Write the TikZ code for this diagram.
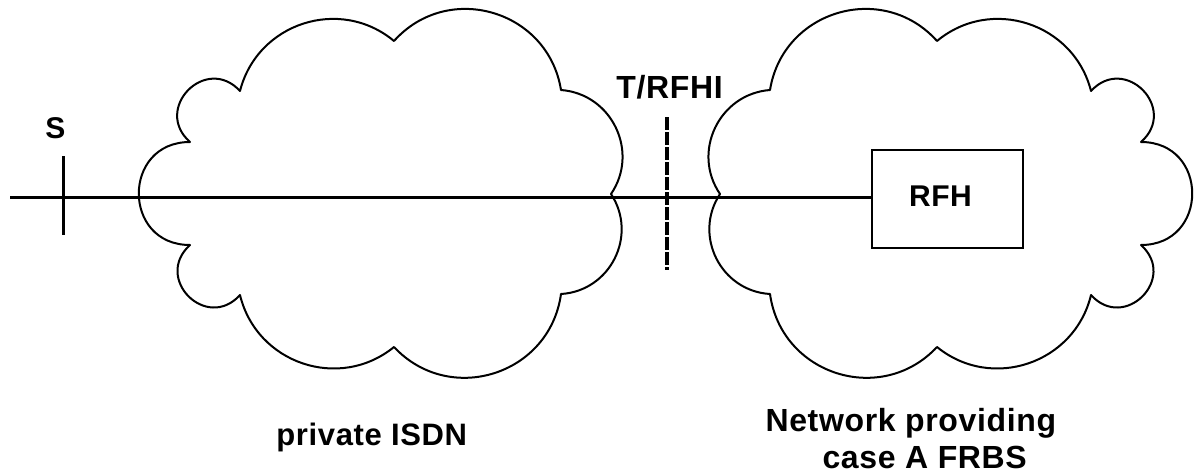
\documentclass[tikz,border=0pt]{standalone}
\usepackage{fontspec}
\newfontfamily\lblfont{Liberation Sans}[LetterSpace=2]
% Outline of a cloud: #1 = x offset, #2 = x direction, #3 = bend side
\newcommand\cloudrim[3]{%
  ({#1+#2*190},230)
  to[bend #3=90,looseness=1.70] ({#1+#2*190},333)
  to[bend #3=93,looseness=1.80] ({#1+#2*240},384)
  to[bend #3=57.75,looseness=1.11] ({#1+#2*394},434)
  to[bend #3=64.5,looseness=1.19] ({#1+#2*561},385)
  to[bend #3=60,looseness=1.13] ({#1+#2*611},281)
  to[bend #3=60,looseness=1.13] ({#1+#2*561},181)
  to[bend #3=64.5,looseness=1.19] ({#1+#2*394},128)
  to[bend #3=57.75,looseness=1.11] ({#1+#2*240},180)
  to[bend #3=93,looseness=1.80] ({#1+#2*190},230)
  -- cycle}
\tikzset{
  cloud/.style={draw=black, line width=2pt, line join=round},
  wire/.style={draw=black, line width=3pt},
  tick/.style={draw=black, line width=2.7pt},
  boundary/.style={draw=black, line width=3.2pt, dash pattern=on 12.5pt off 2.5pt},
  box/.style={draw=black, line width=2.2pt, fill=white, inner sep=0pt,
    minimum width=151pt, minimum height=98pt},
  lbl/.style={inner sep=0pt, text=black},
  big/.style={font=\lblfont\bfseries\fontsize{32}{38}\selectfont},
  mid/.style={font=\lblfont\bfseries\fontsize{31}{37}\selectfont},
  small/.style={font=\lblfont\bfseries\fontsize{30}{36}\selectfont}
}
\begin{document}
\begin{tikzpicture}[x=1pt,y=1pt]
\useasboundingbox[fill=white] (0,0) rectangle (1196,475);

% the two networks
\draw[cloud] \cloudrim{0}{1}{left};
\draw[cloud] \cloudrim{1331}{(-1)}{right};

% relay function handler
\node[box, label={[lbl, small, xshift=-7pt, yshift=3pt]center:RFH}] (rfh) at (947.5,276) {};

% access line from the terminal side to the RFH
\coordinate (w) at (10,278);
\draw[wire] (w) -- (w -| rfh.west);

% S reference point
\coordinate (stop) at (63.3,319);
\coordinate (sbot) at (63.3,240);
\draw[tick] (stop) -- (sbot);
\node[lbl, small] (s) at (55.3,346.7) {S};

% T/RFHI reference point
\coordinate (dtop) at (667,358);
\coordinate (dbot) at (667,205);
\draw[boundary] (dtop) -- (dbot);
\node[lbl, big] (t) at (669.5,387.3) {T/RFHI};

% network captions
\node[lbl, mid, anchor=base] (pisdn) at (371.7,30) {private ISDN};
\node[lbl, big, anchor=base] (net1) at (910.8,43.3) {Network providing};
\node[lbl, big, anchor=base] (net2) at (924.7,6.7) {case A FRBS};
\end{tikzpicture}
\end{document}
